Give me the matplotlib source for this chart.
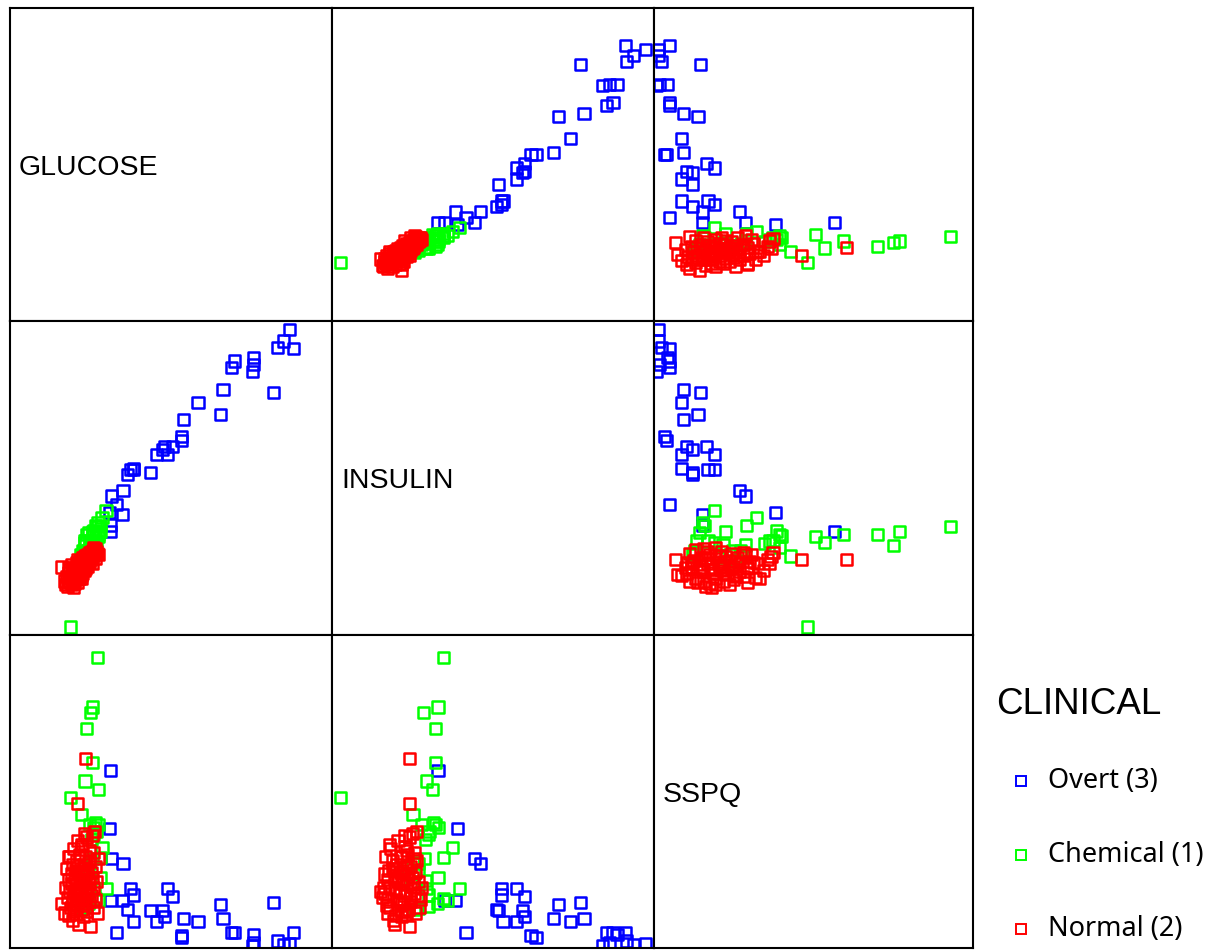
import matplotlib.pyplot as plt

# values (approximate)
# Overt (3)
overt_glucose = [352, 345, 337, 308, 306, 357, 308, 284, 281, 218, 218, 138, 270, 239, 221, 197, 187,
                 159, 333, 267, 195, 180, 152, 207, 201, 159, 155, 145, 131, 146, 132, 129, 131]
overt_insulin = [1566, 1515, 1486, 1413, 1384, 1482, 1445, 1428, 1399, 1101, 1080, 804, 1305, 1247, 1174,
                 1054, 1019, 961, 1290, 1196, 1043, 942, 932, 1054, 1019, 956, 956, 760, 714, 865, 840,
                 768, 685]
overt_sspq = [17, 15, 23, 19, 12, 44, 40, 44, 44, 32, 37, 44, 80, 74, 80, 86, 74, 74, 123, 116, 101,
              101, 103, 137, 158, 141, 158, 128, 128, 221, 236, 312, 461]

# Chemical (1)
chem_glucose = [114, 108, 106, 101, 108, 99, 116, 81, 95, 112, 115, 110, 104, 113, 110, 107, 120, 118,
                108, 104, 102, 118, 106, 105, 125, 100, 112, 115, 103, 98, 96, 100, 97, 105, 93, 98]
chem_insulin = [707, 685, 623, 673, 673, 637, 662, 270, 579, 666, 673, 688, 615, 647, 644, 633, 746, 710,
                627, 604, 601, 685, 630, 637, 778, 644, 710, 724, 681, 644, 604, 586, 572, 579, 586, 557]
chem_sspq = [752, 624, 609, 568, 482, 434, 413, 391, 348, 327, 322, 314, 322, 305, 297, 284, 263, 238,
             236, 223, 204, 186, 179, 158, 158, 141, 133, 128, 120, 112, 107, 196, 171, 225, 103, 213]

# Normal (2)
norm_glucose = [70, 73, 75, 76, 77, 78, 79, 80, 80, 81, 82, 82, 83, 84, 84, 85, 85, 86, 86, 87,
                87, 88, 88, 89, 89, 90, 90, 90, 91, 91, 92, 92, 93, 93, 94, 94, 95, 95, 96, 96,
                97, 97, 98, 98, 99, 99, 100, 100, 101, 101, 102, 102, 103, 104, 104, 105, 105, 106, 107, 107,
                108, 109, 110, 110, 111, 112, 112, 113, 114, 115, 90, 100, 85, 95, 78, 108]
norm_insulin = [531, 470, 455, 490, 448, 505, 470, 462, 520, 480, 456, 540, 495, 470, 510, 485, 530, 460, 500, 520,
                475, 505, 550, 490, 530, 465, 515, 545, 500, 525, 480, 555, 510, 535, 495, 560, 520, 545, 505, 570,
                530, 550, 515, 575, 540, 560, 525, 580, 545, 565, 535, 585, 555, 570, 595, 550, 580, 565, 590, 600,
                575, 605, 585, 615, 595, 570, 610, 600, 590, 586, 565, 565, 441, 480, 530, 545]
norm_sspq = [120, 95, 160, 210, 135, 88, 180, 240, 150, 110, 195, 170, 75, 130, 220, 260, 100, 145, 185, 125,
             205, 155, 90, 230, 170, 115, 280, 140, 65, 200, 160, 245, 130, 180, 210, 105, 150, 265, 190, 135,
             85, 220, 175, 300, 120, 195, 240, 160, 100, 290, 205, 145, 180, 125, 230, 255, 170, 60, 200, 140,
             185, 110, 250, 160, 305, 215, 130, 175, 95, 235, 377, 491, 150, 270, 240, 295]

var_names = ["GLUCOSE", "INSULIN", "SSPQ"]
var_limits = [(6, 405), (235, 1602), (5, 809)]

groups = [
    ("Overt (3)", "#0000ff", [overt_glucose, overt_insulin, overt_sspq]),
    ("Chemical (1)", "#00ff00", [chem_glucose, chem_insulin, chem_sspq]),
    ("Normal (2)", "#ff0000", [norm_glucose, norm_insulin, norm_sspq]),
]


def main():
    W, H = 1215, 952
    fig = plt.figure(figsize=(W / 100, H / 100), dpi=100)
    col_edges = [10, 332, 654, 973]
    row_edges = [8, 321, 635, 948]

    for i in range(3):
        for j in range(3):
            x0, x1 = col_edges[j], col_edges[j + 1]
            y0, y1 = row_edges[i], row_edges[i + 1]
            ax = fig.add_axes([x0 / W, 1 - y1 / H, (x1 - x0) / W, (y1 - y0) / H])
            ax.set_xticks([])
            ax.set_yticks([])
            for sp in ax.spines.values():
                sp.set_linewidth(1.5)
                sp.set_color("black")
            ax.set_xlim(*var_limits[j])
            ax.set_ylim(*var_limits[i])
            if i == j:
                ax.text(0.028, 0.49, var_names[i], transform=ax.transAxes,
                        ha="left", va="center", fontsize=20.5, family="Liberation Sans")
                continue
            for name, color, cols in groups:
                ax.scatter(cols[j], cols[i], s=64, marker="s", facecolors="none",
                           edgecolors=color, linewidths=1.8)

    # legend drawn by hand on the right
    lax = fig.add_axes([973 / W, 0, (W - 973) / W, 1])
    lax.set_xlim(973, W)
    lax.set_ylim(H, 0)
    lax.axis("off")
    lax.text(996, 704, "CLINICAL", ha="left", va="center", fontsize=26.5, family="Liberation Sans")
    for (name, color, _), ypos in zip(groups, [781, 855, 929]):
        lax.plot([1021], [ypos], marker="s", ms=6.8, mfc="none", mec=color, mew=1.4, ls="none")
        lax.text(1048, ypos, name, ha="left", va="center", fontsize=19.5, family="Noto Sans")

    fig.savefig("out.png", dpi=100)
    plt.close(fig)


if __name__ == "__main__":
    main()
